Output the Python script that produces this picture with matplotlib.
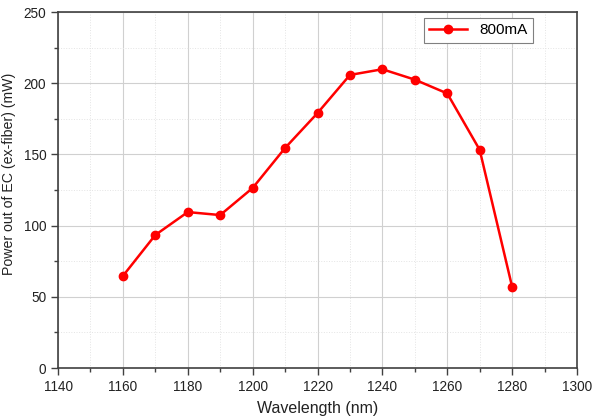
import matplotlib
matplotlib.use("Agg")
import matplotlib.pyplot as plt
from matplotlib.ticker import MultipleLocator

plt.rcParams['font.family'] = ['Liberation Sans', 'DejaVu Sans']

wavelength = [1160, 1170, 1180, 1190, 1200, 1210, 1220, 1230, 1240, 1250, 1260, 1270, 1280]
power = [64.6, 93.4, 109.5, 107.4, 126.4, 154.5, 179.0, 205.8, 209.8, 202.5, 192.8, 153.2, 57.0]
series_label = "800mA"

fig = plt.figure(figsize=(5.93, 4.20), dpi=100)
ax = fig.add_axes([58/593, 1 - 368/420, (577-58)/593, (368-12)/420])

ax.plot(wavelength, power, color='#ff0000', lw=1.8, marker='o', ms=6, label=series_label, zorder=3)

ax.set_xlim(1140, 1300)
ax.set_ylim(0, 250)
ax.xaxis.set_major_locator(MultipleLocator(20))
ax.xaxis.set_minor_locator(MultipleLocator(10))
ax.yaxis.set_major_locator(MultipleLocator(50))
ax.yaxis.set_minor_locator(MultipleLocator(25))
ax.grid(which='major', color='#d0d0d0', lw=0.8)
ax.grid(which='minor', color='#e4e4e4', lw=0.7, ls=':')
ax.set_axisbelow(True)

for s in ax.spines.values():
    s.set_color('#404040')
    s.set_linewidth(1.2)

ax.tick_params(which='major', direction='out', length=5, width=1, color='#404040', labelsize=9.8, labelcolor='#222222')
ax.tick_params(which='minor', direction='out', length=3, width=1, color='#404040')

ax.set_xlabel('Wavelength (nm)', fontsize=11.5, color='#222222', labelpad=5)
ax.set_ylabel('Power out of EC (ex-fiber) (mW)', fontsize=10.2, color='#222222')
ax.yaxis.set_label_coords(-0.08, 0.545)

leg = ax.legend(loc='upper right', bbox_to_anchor=(0.915, 0.983), borderaxespad=0, fontsize=11,
                fancybox=False, edgecolor='#808080', framealpha=1, borderpad=0.35, handlelength=2.5)
leg.get_frame().set_linewidth(0.8)

fig.savefig('out.png', dpi=100)
